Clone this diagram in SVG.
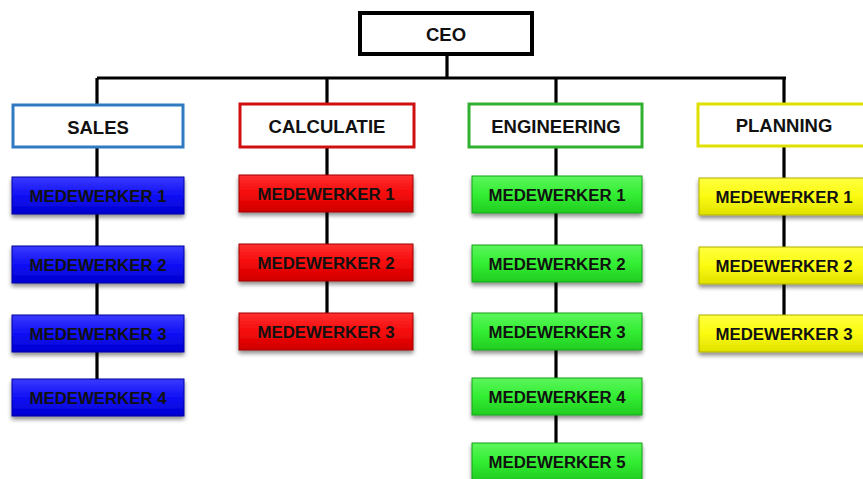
<svg xmlns="http://www.w3.org/2000/svg" width="863" height="479" viewBox="0 0 863 479">
  <defs>
    <style>
      .lbl { font-family: "Liberation Sans", Arial, sans-serif; font-weight: bold; font-size: 16.8px; fill: #111; text-anchor: middle; dominant-baseline: central; }
      .hl { font-size: 18.5px; }
      .conn { stroke: #000; stroke-width: 3.2; fill: none; }
      .head { fill: #fff; stroke-width: 3; }
      .mw { stroke-width: 1; filter: url(#shadow); }
    </style>
    <filter id="shadow" x="-10%" y="-20%" width="120%" height="160%">
      <feGaussianBlur in="SourceAlpha" stdDeviation="2"/>
      <feOffset dx="0" dy="3" result="b"/>
      <feComponentTransfer><feFuncA type="linear" slope="0.45"/></feComponentTransfer>
      <feMerge><feMergeNode/><feMergeNode in="SourceGraphic"/></feMerge>
    </filter>
    <linearGradient id="gBlue" x1="0" y1="0" x2="0" y2="1">
      <stop offset="0" stop-color="#3a3aff"/>
      <stop offset="0.5" stop-color="#1010f5"/>
      <stop offset="1" stop-color="#0000d0"/>
    </linearGradient>
    <linearGradient id="gRed" x1="0" y1="0" x2="0" y2="1">
      <stop offset="0" stop-color="#ff3030"/>
      <stop offset="0.5" stop-color="#f50a0a"/>
      <stop offset="1" stop-color="#d00000"/>
    </linearGradient>
    <linearGradient id="gGreen" x1="0" y1="0" x2="0" y2="1">
      <stop offset="0" stop-color="#5cf55c"/>
      <stop offset="0.5" stop-color="#33ee33"/>
      <stop offset="1" stop-color="#22cc22"/>
    </linearGradient>
    <linearGradient id="gYellow" x1="0" y1="0" x2="0" y2="1">
      <stop offset="0" stop-color="#ffff40"/>
      <stop offset="0.5" stop-color="#fbfb10"/>
      <stop offset="1" stop-color="#e0e000"/>
    </linearGradient>
  </defs>

  <rect width="863" height="479" fill="#fff"/>

  <!-- connectors -->
  <g id="connectors">
    <line class="conn" x1="447" y1="55" x2="447" y2="78"/>
    <line class="conn" x1="97" y1="78" x2="786" y2="78"/>
    <line class="conn" x1="97" y1="78" x2="97" y2="380"/>
    <line class="conn" x1="327" y1="78" x2="327" y2="315"/>
    <line class="conn" x1="556" y1="78" x2="556" y2="444"/>
    <line class="conn" x1="784" y1="78" x2="784" y2="318"/>
  </g>

  <!-- CEO -->
  <g id="ceo">
    <rect x="360" y="13" width="172" height="41" fill="#fff" stroke="#000" stroke-width="4"/>
    <text class="lbl hl" x="446" y="34">CEO</text>
  </g>

  <!-- SALES -->
  <g id="sales">
    <rect class="head" x="13" y="105" width="170" height="42" stroke="#2f7ac0"/>
    <text class="lbl hl" x="98" y="127">SALES</text>
  </g>
  <g id="sales-1"><rect class="mw" x="12" y="177" width="172" height="37" fill="url(#gBlue)" stroke="#0000a0"/><text class="lbl" x="98" y="196">MEDEWERKER 1</text></g>
  <g id="sales-2"><rect class="mw" x="12" y="246" width="172" height="37" fill="url(#gBlue)" stroke="#0000a0"/><text class="lbl" x="98" y="265">MEDEWERKER 2</text></g>
  <g id="sales-3"><rect class="mw" x="12" y="315" width="172" height="37" fill="url(#gBlue)" stroke="#0000a0"/><text class="lbl" x="98" y="334">MEDEWERKER 3</text></g>
  <g id="sales-4"><rect class="mw" x="12" y="379" width="172" height="37" fill="url(#gBlue)" stroke="#0000a0"/><text class="lbl" x="98" y="398">MEDEWERKER 4</text></g>

  <!-- CALCULATIE -->
  <g id="calculatie">
    <rect class="head" x="240" y="104" width="174" height="43" stroke="#d01010"/>
    <text class="lbl hl" x="327" y="126">CALCULATIE</text>
  </g>
  <g id="calc-1"><rect class="mw" x="239" y="175" width="174" height="37" fill="url(#gRed)" stroke="#a00000"/><text class="lbl" x="326" y="194">MEDEWERKER 1</text></g>
  <g id="calc-2"><rect class="mw" x="239" y="244" width="174" height="37" fill="url(#gRed)" stroke="#a00000"/><text class="lbl" x="326" y="263">MEDEWERKER 2</text></g>
  <g id="calc-3"><rect class="mw" x="239" y="313" width="174" height="37" fill="url(#gRed)" stroke="#a00000"/><text class="lbl" x="326" y="332">MEDEWERKER 3</text></g>

  <!-- ENGINEERING -->
  <g id="engineering">
    <rect class="head" x="469" y="104" width="173" height="43" stroke="#30b030"/>
    <text class="lbl hl" x="556" y="126">ENGINEERING</text>
  </g>
  <g id="eng-1"><rect class="mw" x="472" y="176" width="170" height="37" fill="url(#gGreen)" stroke="#18a018"/><text class="lbl" x="557" y="195">MEDEWERKER 1</text></g>
  <g id="eng-2"><rect class="mw" x="472" y="245" width="170" height="37" fill="url(#gGreen)" stroke="#18a018"/><text class="lbl" x="557" y="264">MEDEWERKER 2</text></g>
  <g id="eng-3"><rect class="mw" x="472" y="313" width="170" height="37" fill="url(#gGreen)" stroke="#18a018"/><text class="lbl" x="557" y="332">MEDEWERKER 3</text></g>
  <g id="eng-4"><rect class="mw" x="472" y="378" width="170" height="37" fill="url(#gGreen)" stroke="#18a018"/><text class="lbl" x="557" y="397">MEDEWERKER 4</text></g>
  <g id="eng-5"><rect class="mw" x="472" y="443" width="170" height="37" fill="url(#gGreen)" stroke="#18a018"/><text class="lbl" x="557" y="462">MEDEWERKER 5</text></g>

  <!-- PLANNING -->
  <g id="planning">
    <rect class="head" x="698" y="104" width="172" height="42" stroke="#e0e000"/>
    <text class="lbl hl" x="784" y="125">PLANNING</text>
  </g>
  <g id="plan-1"><rect class="mw" x="699" y="178" width="172" height="37" fill="url(#gYellow)" stroke="#b0b000"/><text class="lbl" x="784" y="197">MEDEWERKER 1</text></g>
  <g id="plan-2"><rect class="mw" x="699" y="247" width="172" height="37" fill="url(#gYellow)" stroke="#b0b000"/><text class="lbl" x="784" y="266">MEDEWERKER 2</text></g>
  <g id="plan-3"><rect class="mw" x="699" y="315" width="172" height="37" fill="url(#gYellow)" stroke="#b0b000"/><text class="lbl" x="784" y="334">MEDEWERKER 3</text></g>
</svg>
